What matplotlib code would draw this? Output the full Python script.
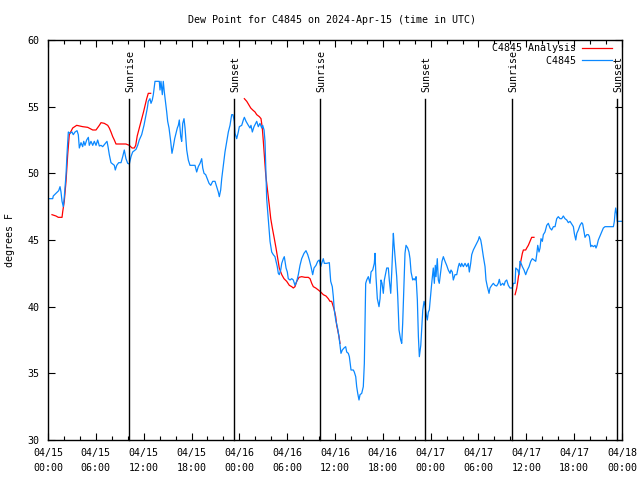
import numpy as np
import matplotlib
matplotlib.use("Agg")
import matplotlib.pyplot as plt
from matplotlib.ticker import MultipleLocator
import matplotlib.transforms as mtransforms

# ---------------- data (hours since 2024-04-15 00:00 UTC, degrees F) ----------------
blue_t = [0.0, 0.59, 0.66, 1.0, 1.34, 1.51, 1.63, 1.76, 1.92, 2.04, 2.26, 2.38, 2.55, 2.76, 3.01, 3.17,
          3.39, 3.64, 3.80, 3.93, 4.14, 4.35, 4.48, 4.64, 4.85, 5.06, 5.18, 5.39, 5.61, 5.81, 6.02, 6.23,
          6.44, 6.65, 6.86, 7.19, 7.40, 7.53, 7.69, 7.90, 8.12, 8.32, 8.44, 8.62, 8.87, 9.16, 9.37, 9.57,
          9.78, 10.0, 10.2, 10.41, 10.62, 10.83, 11.04, 11.25, 11.45, 11.75, 12.04, 12.29, 12.46, 12.58,
          12.79, 12.92, 13.08, 13.21, 13.42, 13.71, 13.96, 14.05, 14.17, 14.34, 14.46, 14.59, 14.71, 14.89,
          15.01, 15.18, 15.39, 15.55, 15.72, 15.89, 16.06, 16.22, 16.35, 16.47, 16.65, 16.77, 16.90, 17.06,
          17.19, 17.40, 17.60, 17.81, 18.15, 18.44, 18.65, 18.85, 19.07, 19.28, 19.41, 19.57, 19.78, 19.98,
          20.20, 20.41, 20.66, 20.95, 21.16, 21.36, 21.49, 21.66, 21.79, 21.99, 22.20, 22.42, 22.62, 22.83,
          23.04, 23.20, 23.37, 23.46, 23.67, 23.87, 24.00, 24.30, 24.50, 24.63, 24.84, 25.13, 25.34, 25.46,
          25.63, 25.84, 26.05, 26.18, 26.38, 26.59, 26.81, 26.93, 27.10, 27.22, 27.35, 27.43, 27.56, 27.72,
          27.85, 28.06, 28.26, 28.47, 28.60, 28.76, 28.89, 29.01, 29.19, 29.32, 29.52, 29.64, 29.73, 29.86,
          30.02, 30.14, 30.36, 30.57, 30.77, 30.98, 31.20, 31.40, 31.61, 31.82, 32.11, 32.36, 32.58, 32.78,
          32.99, 33.20, 33.37, 33.62, 33.83, 34.03, 34.21, 34.33, 34.53, 34.66, 34.96, 35.29, 35.46, 35.66,
          35.79, 35.91, 36.09, 36.29, 36.50, 36.63, 36.75, 36.92, 37.13, 37.34, 37.47, 37.67, 37.80, 38.01,
          38.30, 38.42, 38.60, 38.72, 38.85, 39.01, 39.14, 39.35, 39.55, 39.68, 39.76, 39.85, 39.98, 40.18,
          40.39, 40.52, 40.73, 40.93, 41.02, 41.14, 41.31, 41.52, 41.65, 41.77, 41.90, 42.06, 42.19, 42.36,
          42.49, 42.69, 42.81, 42.99, 43.11, 43.24, 43.32, 43.40, 43.53, 43.74, 43.87, 44.03, 44.24, 44.37,
          44.49, 44.66, 44.78, 44.91, 45.12, 45.28, 45.41, 45.54, 45.75, 45.91, 46.04, 46.17, 46.33, 46.46,
          46.58, 46.76, 46.92, 47.01, 47.17, 47.29, 47.42, 47.58, 47.71, 47.83, 48.01, 48.13, 48.26, 48.33,
          48.46, 48.58, 48.67, 48.83, 48.96, 49.08, 49.26, 49.42, 49.59, 49.80, 50.01, 50.21, 50.43, 50.55,
          50.71, 50.84, 51.05, 51.27, 51.47, 51.59, 51.77, 51.89, 52.10, 52.31, 52.52, 52.72, 52.85, 53.02,
          53.15, 53.35, 53.56, 53.78, 53.98, 54.10, 54.28, 54.40, 54.61, 54.82, 54.94, 55.11, 55.32, 55.44,
          55.66, 55.86, 56.07, 56.28, 56.48, 56.61, 56.78, 57.04, 57.20, 57.36, 57.54, 57.74, 57.95, 58.24,
          58.37, 58.59, 58.67, 58.93, 59.09, 59.21, 59.34, 59.50, 59.71, 59.92, 60.13, 60.34, 60.55, 60.75,
          60.96, 61.18, 61.30, 61.43, 61.59, 61.72, 61.84, 62.01, 62.13, 62.34, 62.56, 62.76, 62.97, 63.18,
          63.39, 63.60, 63.81, 64.01, 64.22, 64.43, 64.64, 64.85, 65.07, 65.27, 65.48, 65.69, 65.90, 66.02,
          66.20, 66.33, 66.52, 66.73, 66.95, 67.07, 67.24, 67.36, 67.58, 67.78, 67.91, 68.08, 68.21, 68.41,
          68.62, 68.74, 68.87, 69.03, 69.24, 69.46, 69.66, 69.87, 70.29, 70.92, 71.04, 71.12, 71.21, 71.34,
          71.41, 71.96]
blue_v = [48.1, 48.1, 48.3, 48.5, 48.7, 49.0, 48.6, 47.9, 47.5, 48.2, 49.9, 51.4, 53.1, 53.0, 53.1, 52.9,
          53.1, 53.2, 52.9, 51.9, 52.3, 52.0, 52.4, 52.1, 52.5, 52.7, 52.1, 52.4, 52.1, 52.4, 52.1, 52.5,
          52.05, 52.1, 52.0, 52.25, 52.4, 52.0, 51.4, 50.8, 50.7, 50.6, 50.25, 50.6, 50.8, 50.8, 51.25, 51.75,
          51.1, 50.75, 50.7, 51.25, 51.6, 51.7, 51.8, 52.1, 52.5, 52.9, 53.6, 54.4, 54.9, 55.4,
          55.6, 55.25, 55.5, 55.9, 56.9, 56.9, 56.9, 56.25, 56.9, 55.9, 56.9, 56.1, 55.5, 54.6,
          53.9, 53.4, 52.4, 51.5, 52.0, 52.6, 53.0, 53.4, 53.6, 54.0, 52.75, 52.4, 53.75, 54.1,
          53.4, 51.75, 51.0, 50.6, 50.6, 50.6, 50.1, 50.5, 50.75, 51.1, 50.4, 50.0, 49.9, 49.6,
          49.25, 49.1, 49.4, 49.4, 49.0, 48.6, 48.25, 48.75, 49.6, 50.6, 51.6, 52.4, 53.1, 53.6,
          54.4, 54.4, 53.9, 53.0, 52.6, 53.1, 53.5, 53.6, 54.0, 54.2, 53.9, 53.6, 53.4, 53.6,
          53.1, 53.5, 53.75, 53.9, 53.5, 53.75, 53.4, 53.6, 53.25, 52.4, 49.9, 48.1, 47.1, 45.9,
          44.9, 44.1, 43.9, 43.75, 43.4, 43.0, 42.5, 42.4, 42.75, 43.25, 43.6, 43.75, 43.4, 42.9,
          42.6, 42.1, 42.0, 42.1, 42.0, 41.6, 41.9, 42.4, 43.1, 43.6, 44.0, 44.2, 43.9, 43.5,
          43.0, 42.4, 42.9, 43.1, 43.4, 43.5, 43.0, 43.25, 43.6, 43.25, 43.25, 43.3, 41.9, 41.5,
          40.75, 39.75, 39.0, 38.5, 37.75, 37.1, 36.5, 36.75, 36.9, 37.0, 36.6, 36.5, 36.25, 35.25,
          35.25, 35.1, 34.75, 34.0, 33.5, 33.0, 33.4, 33.5, 34.0, 35.75, 38.75, 41.75, 42.0, 42.25,
          41.75, 42.6, 42.75, 43.25, 44.0, 42.25, 40.6, 40.0, 40.6, 42.0, 41.75, 41.0, 42.0, 42.5,
          42.9, 42.9, 42.0, 41.0, 42.5, 44.4, 45.5, 44.75, 43.75, 42.25, 40.75, 38.25, 37.5, 37.25,
          38.75, 41.75, 44.0, 44.6, 44.4, 44.1, 43.6, 42.6, 42.0, 42.1, 42.0, 42.25, 40.5, 37.75,
          36.25, 37.1, 38.75, 39.75, 40.4, 40.1, 39.5, 39.0, 39.6, 39.75, 41.0, 41.75, 42.5, 42.9,
          41.75, 43.1, 42.25, 43.6, 42.0, 41.75, 42.6, 43.4, 43.75, 43.4, 43.1, 42.75, 42.5, 42.75,
          42.6, 42.0, 42.4, 42.4, 43.0, 43.25, 43.0, 43.25, 43.0, 43.25, 43.0, 43.25, 42.6, 43.25,
          43.9, 44.25, 44.5, 44.75, 45.0, 45.25, 45.0, 44.6, 43.75, 43.0, 42.0, 41.5, 41.0, 41.4,
          41.6, 41.75, 41.6, 41.55, 41.75, 42.05, 41.6, 41.75, 41.6, 41.9, 42.0, 41.6, 41.4, 41.4,
          41.75, 41.75, 42.9, 42.75, 42.4, 43.4, 43.25, 43.0, 42.75, 42.4, 42.75, 43.0, 43.4, 43.6,
          43.5, 43.4, 43.9, 44.6, 44.1, 44.4, 45.1, 44.9, 45.4, 45.6, 46.1, 46.25, 45.9, 45.75,
          46.0, 46.0, 46.6, 46.75, 46.6, 46.6, 46.8, 46.6, 46.5, 46.3, 46.4, 46.2, 46.0, 45.5,
          45.0, 45.5, 45.75, 46.1, 46.3, 46.2, 45.6, 45.2, 45.4, 45.4, 45.25, 44.5, 44.6, 44.5,
          44.6, 44.4, 44.6, 45.0, 45.3, 45.6, 45.9, 46.0, 46.0, 46.0, 46.4, 47.0, 47.4, 46.9,
          46.4, 46.4]

# Analysis series (NaN = gap)
red_t = [0.50, 1.0, 1.29, 1.76, 1.84, 2.04, 2.26, 2.47, 2.67, 3.10, 3.60, 4.35, 4.98, 5.61, 6.02, 6.44,
         6.65, 7.06, 7.49, 7.69, 7.90, 8.12, 8.32, 8.53, 9.03, 9.78, 10.20, 10.54, 10.83, 11.00, 11.19,
         11.54, 11.98, 12.38, 12.58, 12.88,
         18.0,
         24.63, 24.93, 25.13, 25.43, 25.68, 25.97, 26.18, 26.51, 26.72, 26.88, 27.01, 27.13, 27.31, 27.56,
         27.76, 27.94, 28.14, 28.39, 28.60, 28.82, 29.01, 29.32, 29.60, 29.94, 30.27, 30.57, 30.77, 30.98,
         31.20, 31.49, 31.82, 32.24, 32.65, 32.87, 33.08, 33.28, 33.58, 33.91, 34.21, 34.53, 34.87, 35.16,
         35.37, 35.58, 35.79, 35.91, 36.09, 36.21, 36.34, 36.50, 36.63,
         48.0,
         58.59, 58.80, 58.93, 59.09, 59.21, 59.34, 59.50, 59.63, 59.92, 60.05, 60.25, 60.46, 60.67, 60.96]
red_v = [46.9, 46.8, 46.7, 46.7, 47.1, 47.9, 49.4, 51.4, 52.9, 53.4, 53.6, 53.5, 53.45, 53.25, 53.25, 53.6,
         53.8, 53.75, 53.6, 53.4, 53.1, 52.75, 52.5, 52.2, 52.2, 52.2, 52.1, 51.9, 51.9, 52.1, 52.8,
         53.6, 54.6, 55.6, 56.0, 56.0,
         np.nan,
         55.6, 55.4, 55.2, 54.9, 54.75, 54.6, 54.4, 54.25, 54.1, 53.4, 52.4, 51.4, 49.9, 48.6,
         47.6, 46.6, 45.9, 45.1, 44.4, 43.6, 42.9, 42.4, 42.1, 41.9, 41.6, 41.5, 41.4, 41.5,
         41.9, 42.2, 42.25, 42.2, 42.2, 42.1, 41.75, 41.5, 41.4, 41.25, 41.1, 40.9, 40.8, 40.6,
         40.4, 40.4, 40.0, 39.75, 39.25, 38.6, 38.25, 37.75, 37.25,
         np.nan,
         40.9, 41.4, 41.9, 42.6, 43.1, 43.5, 44.0, 44.25, 44.25, 44.4, 44.6, 44.9, 45.2, 45.2]

series_names = ["C4845 Analysis", "C4845"]
series_colors = ["#ff0000", "#0a88ff"]

sun_t = [10.2, 23.33, 34.16, 47.33, 58.24, 71.41]
sun_labels = ["Sunrise", "Sunset", "Sunrise", "Sunset", "Sunrise", "Sunset"]

xtick_hours = list(range(0, 73, 6))
xtick_labels = ["04/15\n00:00", "04/15\n06:00", "04/15\n12:00", "04/15\n18:00",
                "04/16\n00:00", "04/16\n06:00", "04/16\n12:00", "04/16\n18:00",
                "04/17\n00:00", "04/17\n06:00", "04/17\n12:00", "04/17\n18:00",
                "04/18\n00:00"]
yticks = [30, 35, 40, 45, 50, 55, 60]

title = "Dew Point for C4845 on 2024-Apr-15 (time in UTC)"
ylabel = "degrees F"

# ---------------- drawing ----------------
FONT = "DejaVu Sans Mono"
FS = 7.2
plt.rcParams["font.family"] = FONT
plt.rcParams["font.size"] = FS

fig = plt.figure(figsize=(6.4, 4.8), dpi=100)
ax = fig.add_axes([48 / 640, 40 / 480, 574 / 640, 400 / 480])

l_red, = ax.plot(red_t, red_v, color=series_colors[0], lw=0.9)
l_blue, = ax.plot(blue_t, blue_v, color=series_colors[1], lw=0.9)

trans = mtransforms.blended_transform_factory(ax.transData, ax.transAxes)
for t, lab in zip(sun_t, sun_labels):
    ax.plot([t, t], [0, 0.8525], color="black", lw=1.0, transform=trans, clip_on=False)
    ax.text(t + 0.12, 0.87, lab, rotation=90, ha="center", va="bottom",
            transform=trans, fontsize=FS, family=FONT)

ax.set_xlim(0, 72)
ax.set_ylim(30, 60)
ax.set_xticks(xtick_hours)
ax.set_xticklabels(xtick_labels, linespacing=1.55)
ax.xaxis.set_minor_locator(MultipleLocator(2))
ax.set_yticks(yticks)
ax.tick_params(axis="both", which="major", direction="in", length=5, width=0.8,
               top=True, right=True, labelsize=FS, pad=6)
ax.tick_params(axis="x", which="minor", direction="in", length=3, width=0.8, top=True)
ax.tick_params(axis="y", which="major", pad=6)
for sp in ax.spines.values():
    sp.set_linewidth(1.0)

fig.text(332 / 640, 1 - 20 / 480, title, ha="center", va="center", fontsize=FS, family=FONT)
fig.text(10 / 640, 240 / 480, ylabel, rotation=90, ha="center", va="center", fontsize=FS, family=FONT)

w = max(len(n) for n in series_names)
leg = ax.legend([l_red, l_blue], [n.rjust(w) for n in series_names], loc="upper right",
                bbox_to_anchor=(612 / 640, 1 - 43 / 480), bbox_transform=fig.transFigure,
                frameon=False, markerfirst=False, handlelength=3.0, handletextpad=0.6,
                labelspacing=0.25, borderpad=0, borderaxespad=0,
                prop={"family": FONT, "size": FS})

fig.savefig("out.png", dpi=100)
